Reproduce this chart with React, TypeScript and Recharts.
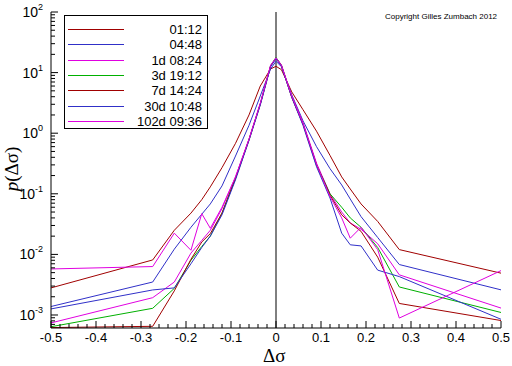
import React from 'react'
import { LineChart, Line, XAxis, YAxis, ReferenceLine } from 'recharts'

// bin centres of the histogram (shared by all horizons)
const X = [-0.5, -0.274, -0.226, -0.189, -0.165, -0.146, -0.12, -0.09, -0.06, -0.035, -0.012, 0,
  0.012, 0.035, 0.06, 0.09, 0.12, 0.146, 0.165, 0.189, 0.226, 0.274, 0.5]

const H_0112 = [2.8e-3, 8.1e-3, 0.025, 0.048, 0.08, 0.13, 0.27, 0.68, 2.0, 6.0, 11.5, 12.7,
  11.2, 4.8, 2.44, 1.08, 0.43, 0.19, 0.12, 0.068, 0.035, 0.012, 4.9e-3]
const H_0448 = [1.38e-3, 3.5e-3, 0.0122, 0.028, 0.046, 0.068, 0.135, 0.42, 1.35, 4.1, 11.5, 15.4,
  12.5, 4.3, 1.6, 0.6, 0.26, 0.14, 0.082, 0.042, 0.019, 6.8e-3, 2.6e-3]
const H_1d = [7.4e-4, 1.93e-3, 3.5e-3, 0.0105, 0.017, 0.025, 0.057, 0.19, 0.8, 3.1, 13, 17.5,
  13.5, 4.1, 1.5, 0.32, 0.1, 0.05, 0.033, 0.026, 0.015, 4.6e-3, 1.3e-3]
const H_3d = [6.4e-4, 1.29e-3, 2.75e-3, 8e-3, 0.0135, 0.02, 0.048, 0.18, 0.78, 3.0, 13, 17.8,
  13.2, 4.0, 1.42, 0.3, 0.1, 0.06, 0.04, 0.028, 0.013, 2.9e-3, 1.1e-3]
const H_7d = [6.2e-4, 6.5e-4, 2.5e-3, 8.3e-3, 0.016, 0.022, 0.048, 0.18, 0.78, 3.0, 12.8, 17.2,
  13, 3.9, 1.4, 0.3, 0.095, 0.045, 0.033, 0.024, 9e-3, 1.55e-3, 8.1e-4]
const H_30d = [1.26e-3, 2.59e-3, 2.8e-3, 7e-3, 0.013, 0.02, 0.045, 0.17, 0.76, 2.9, 12.5, 17,
  12.8, 3.9, 1.35, 0.28, 0.085, 0.0224, 0.0144, 0.0138, 5.5e-3, 4.3e-3, 8.5e-4]
const H_102d = [5.75e-3, 6.3e-3, 0.0224, 0.0117, 0.047, 0.027, 0.06, 0.19, 0.8, 3.1, 13.2, 17.5,
  13.2, 4.1, 1.45, 0.31, 0.09, 0.04, 0.0185, 0.028, 0.012, 8.9e-4, 5.4e-3]

const LABELS = ['01:12', '04:48', '1d 08:24', '3d 19:12', '7d 14:24', '30d 10:48', '102d 09:36']
const VALUES = [H_0112, H_0448, H_1d, H_3d, H_7d, H_30d, H_102d]
const COLORS = ['#a00000', '#3030c8', '#e000e0', '#00b000', '#a00000', '#3030c8', '#e000e0']

const Y_MIN = 6.1e-4
const Y_MAX = 100

const data = X.map((x, i) => {
  const row: any = { x }
  VALUES.forEach((v, k) => { row['s' + k] = v[i] })
  return row
})

// 0.02 steps, labels every 0.1
const X_TICKS = Array.from({ length: 51 }, (_, i) => Math.round((-0.5 + i * 0.02) * 100) / 100)
const Y_TICKS: number[] = []
for (let d = -4; d <= 2; d++) {
  for (let m = 1; m <= 9; m++) {
    const v = m * Math.pow(10, d)
    if (v >= Y_MIN && v <= Y_MAX * 1.0001) Y_TICKS.push(v)
  }
}

const FONT = '"Liberation Sans", Arial, sans-serif'

const XTick = (props: any) => {
  const { x, y, payload } = props
  const v = payload.value
  const major = Math.abs(v * 10 - Math.round(v * 10)) < 1e-6
  return (
    <g>
      <line x1={x} x2={x} y1={y} y2={y - (major ? 7 : 4)} stroke="#000" />
      {major && (
        <text x={x} y={y + 14} textAnchor="middle" fontSize={13} fontFamily={FONT} fill="#000">
          {String(Math.round(v * 10) / 10)}
        </text>
      )}
    </g>
  )
}

const YTick = (props: any) => {
  const { x, y, payload } = props
  const lg = Math.log10(payload.value)
  const major = Math.abs(lg - Math.round(lg)) < 1e-9
  return (
    <g>
      <line x1={x} x2={x + (major ? 7 : 4)} y1={y} y2={y} stroke="#000" />
      {major && (
        <text x={x - 8} y={y + 5} textAnchor="end" fontSize={14} fontFamily={FONT} fill="#000">
          10<tspan dy={-7} fontSize={9}>{Math.round(lg)}</tspan>
        </text>
      )}
    </g>
  )
}

export default function App() {
  return (
    <div style={{ position: 'absolute', left: 0, top: 0, width: 512, height: 366, background: '#fff', overflow: 'hidden' }}>
      <LineChart width={512} height={366} data={data} margin={{ top: 12, right: 11, left: 6, bottom: 8 }}>
        <XAxis dataKey="x" type="number" domain={[-0.5, 0.5]} ticks={X_TICKS} interval={0}
          tick={<XTick />} tickLine={false} tickSize={0} tickMargin={0} height={30}
          axisLine={{ stroke: '#000' }} allowDataOverflow />
        <YAxis type="number" scale="log" domain={[Y_MIN, Y_MAX]} ticks={Y_TICKS} interval={0}
          tick={<YTick />} tickLine={false} tickSize={0} tickMargin={0} width={45}
          axisLine={{ stroke: '#000' }} allowDataOverflow />
        <ReferenceLine x={0} stroke="#000" />
        {LABELS.map((name, k) => (
          <Line key={name} dataKey={'s' + k} name={name} stroke={COLORS[k]} strokeWidth={1}
            dot={false} isAnimationActive={false} type="linear" />
        ))}
      </LineChart>

      {/* legend box */}
      <div style={{
        position: 'absolute', left: 64, top: 15, width: 142, height: 112,
        border: '1px solid #000', background: '#fff', fontFamily: FONT, fontSize: 13,
      }}>
        {LABELS.map((name, k) => (
          <div key={name} style={{ position: 'absolute', left: 0, top: Math.round(6 + k * 15.3), width: 142, height: 15 }}>
            <div style={{ position: 'absolute', left: 3, top: 7, width: 56, height: 1, background: COLORS[k] }} />
            <div style={{ position: 'absolute', right: 5, top: 0, lineHeight: '15px', color: '#000', whiteSpace: 'nowrap' }}>{name}</div>
          </div>
        ))}
      </div>

      <div style={{ position: 'absolute', left: 385, top: 12, fontFamily: FONT, fontSize: 8, color: '#000', whiteSpace: 'nowrap' }}>
        Copyright Gilles Zumbach 2012
      </div>

      <div style={{ position: 'absolute', left: 263, top: 347, lineHeight: '18px', fontFamily: '"Liberation Serif", serif', fontSize: 19, color: '#000' }}>
        Δσ
      </div>

      <div style={{
        position: 'absolute', left: -18, top: 158, width: 60, textAlign: 'center', lineHeight: '22px',
        transform: 'rotate(-90deg)', fontFamily: '"Liberation Serif", serif', fontSize: 19, color: '#000', whiteSpace: 'nowrap',
      }}>
        <i>p</i>(Δσ)
      </div>
    </div>
  )
}
